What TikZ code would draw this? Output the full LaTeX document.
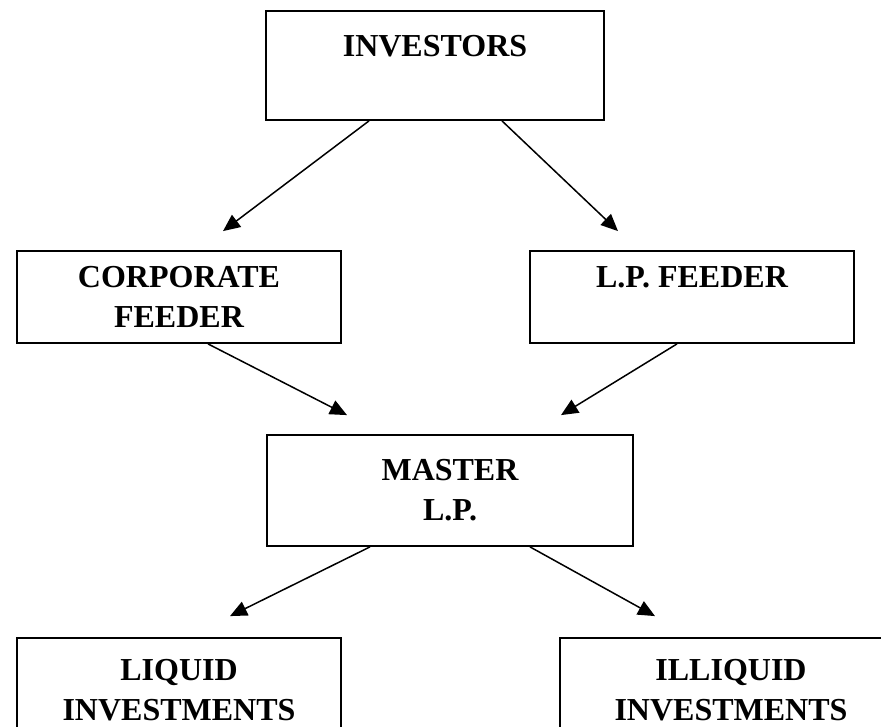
\documentclass[tikz,border=0pt]{standalone}
\usepackage{fontspec}
\setmainfont{Liberation Serif}
\usetikzlibrary{arrows.meta}

\tikzset{
	fundbox/.style={draw, line width=1.8pt, rectangle, align=center, inner sep=0pt,
		font=\bfseries\fontsize{32}{40}\selectfont},
	flow/.style={line width=1.5pt, -{Triangle[length=17pt,width=15pt]}}
}

\begin{document}
\begin{tikzpicture}[x=1pt, y=-1pt]
		%%%%% START %%%%%
		\useasboundingbox (0, 0) rectangle (881, 727);
		\clip (0, 0) rectangle (881, 727);
		
		\node[fundbox, minimum width=338, minimum height=109] (inv) at (435, 65.5) {INVESTORS\\~};
		
		\node[fundbox, minimum width=324, minimum height=92] (corp) at (179, 297) {CORPORATE\\FEEDER};
		\node[fundbox, minimum width=324, minimum height=92] (lpf) at (692, 297) {L.P. FEEDER\\~};
		
		\node[fundbox, minimum width=366, minimum height=111] (master) at (450, 490.5) {MASTER\\L.P.};
		
		\node[fundbox, minimum width=324, minimum height=104] (liquid) at (179, 690) {LIQUID\\INVESTMENTS};
		\node[fundbox, minimum width=342, minimum height=104] (illiquid) at (731, 690) {ILLIQUID\\INVESTMENTS};
		
		\draw[flow] ([xshift=-66pt]inv.south) -- ([xshift=44pt, yshift=19pt]corp.north);
		\draw[flow] ([xshift=67pt]inv.south) -- ([xshift=-74pt, yshift=19pt]lpf.north);
		
		\draw[flow] ([xshift=29pt]corp.south) -- ([xshift=-103pt, yshift=19pt]master.north);
		\draw[flow] ([xshift=-15pt]lpf.south) -- ([xshift=111pt, yshift=19pt]master.north);
		
		\draw[flow] ([xshift=-80pt]master.south) -- ([xshift=51pt, yshift=21pt]liquid.north);
		\draw[flow] ([xshift=80pt]master.south) -- ([xshift=-76pt, yshift=21pt]illiquid.north);
		
		%%%%% END %%%%%
\end{tikzpicture}
\end{document}
